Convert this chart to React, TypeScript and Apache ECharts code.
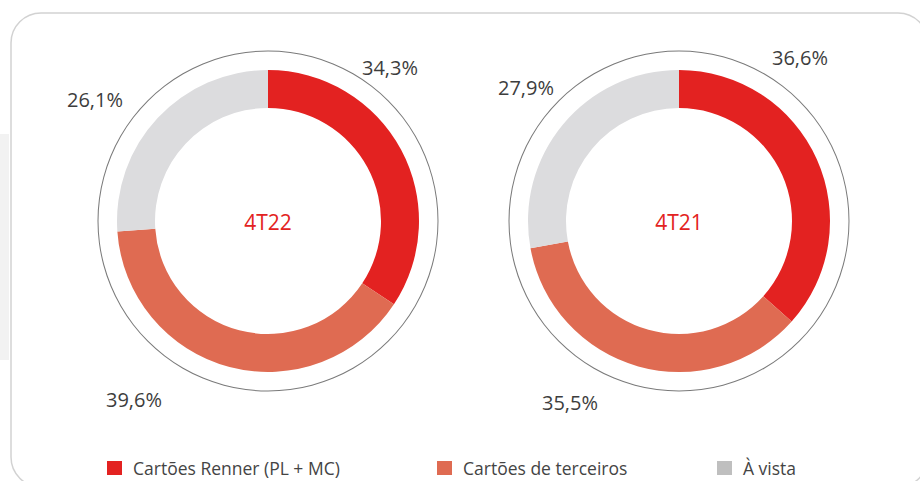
import React, { useEffect, useRef } from "react";
import * as echarts from "echarts";

const categories = ["Cartões Renner (PL + MC)", "Cartões de terceiros", "À vista"];
const periods = ["4T22", "4T21"];
const values4T22 = [34.3, 39.6, 26.1];
const values4T21 = [36.6, 35.5, 27.9];
const seriesValues = [values4T22, values4T21];

const colors = ["#e32221", "#df6b52", "#dcdcde"];
const legendColors = ["#e32221", "#df6b52", "#bfbfbf"];

// layout (pixels)
const centers = [[268, 221], [679, 221]];
const labelPos = [
  [[390, 67], [134, 399], [95, 99]],
  [[800, 57], [570, 402], [526, 87]],
];
const legendLeft = [107, 437, 717];
const FONT = "'Open Sans', 'Noto Sans', sans-serif";

export default function App() {
  const ref = useRef<HTMLDivElement>(null);
  useEffect(() => {
    if (!ref.current) return;
    const chart = echarts.init(ref.current, undefined, { renderer: "svg" });
    const series: any[] = [];
    periods.forEach((p, si) => {
      series.push({
        type: "pie",
        name: p + "-outline",
        silent: true,
        center: centers[si],
        radius: [169.5, 170.5],
        label: { show: false },
        labelLine: { show: false },
        itemStyle: { color: "#7a7a7a" },
        data: [{ value: 1, name: "outline" }],
        z: 1,
      });
      series.push({
        type: "pie",
        name: p,
        center: centers[si],
        radius: [113, 151],
        startAngle: 90,
        clockwise: true,
        avoidLabelOverlap: false,
        itemStyle: { borderWidth: 0 },
        label: {
          show: true,
          position: "outside",
          formatter: (prm: any) => prm.value.toFixed(1).replace(".", ",") + "%",
          fontFamily: FONT,
          fontSize: 20,
          color: "#3d3d3d",
        },
        labelLine: { show: false },
        labelLayout: (prm: any) => {
          const pos = labelPos[si][prm.dataIndex];
          return { x: pos[0], y: pos[1], align: "center", verticalAlign: "middle" };
        },
        emphasis: { disabled: true },
        data: categories.map((c, i) => ({
          name: c,
          value: seriesValues[si][i],
          itemStyle: { color: colors[i] },
        })),
        z: 2,
      });
    });

    const option: any = {
      animation: false,
      backgroundColor: "#ffffff",
      legend: categories.map((c, i) => ({
        left: legendLeft[i],
        top: 459,
        icon: "rect",
        itemWidth: 15,
        itemHeight: 14,
        padding: 0,
        selectedMode: false,
        data: [{ name: c, itemStyle: { color: legendColors[i] } }],
        textStyle: { fontFamily: FONT, fontSize: 17.5, color: "#444444", padding: [0, 0, 0, 6] },
      })),
      graphic: [
        {
          type: "rect",
          shape: { x: 0, y: 134, width: 9, height: 226 },
          style: { fill: "#f2f2f2" },
          z: -2,
        },
        {
          type: "rect",
          shape: { x: 11, y: 13, width: 917, height: 474, r: 30 },
          style: { fill: "#ffffff", stroke: "#d2d2d2", lineWidth: 1.5 },
          z: -1,
        },
        ...periods.map((p, si) => ({
          type: "text",
          x: centers[si][0],
          y: centers[si][1] + 1,
          z: 10,
          style: {
            text: p,
            fill: "#e32221",
            fontFamily: FONT,
            fontSize: 21,
            align: "center",
            verticalAlign: "middle",
          },
        })),
      ],
      series,
    };
    chart.setOption(option);
    return () => chart.dispose();
  }, []);
  return (
    <div
      ref={ref}
      style={{ position: "fixed", left: 0, top: 0, width: 920, height: 481 }}
    />
  );
}
